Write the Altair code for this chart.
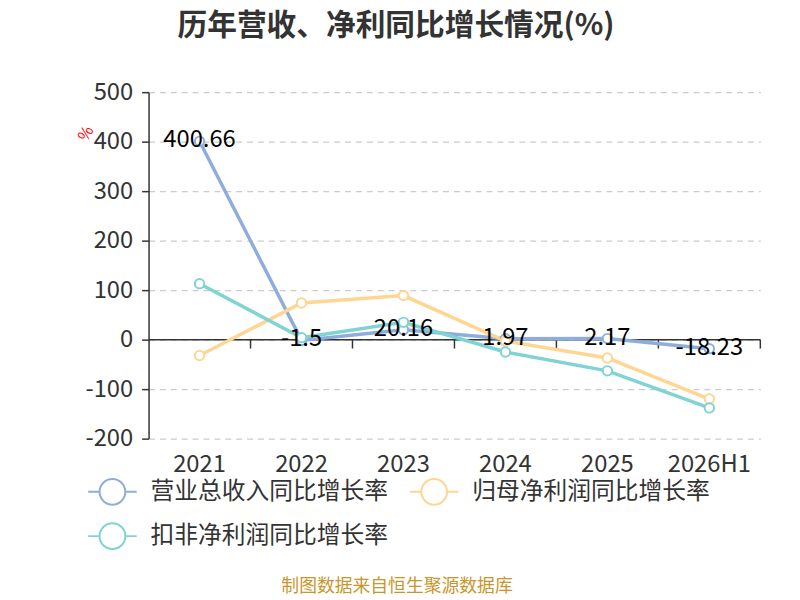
import altair as alt
import pandas as pd

years = ["2021", "2022", "2023", "2024", "2025", "2026H1"]
revenue_growth = [400.66, -1.5, 20.16, 1.97, 2.17, -18.23]
parent_np_growth = [-32, 74, 89, -3, -37, -120]
deducted_np_growth = [113, 4, 35, -25, -63, -138]
series_names = ["营业总收入同比增长率", "归母净利润同比增长率", "扣非净利润同比增长率"]
series_colors = ["#8eaddc", "#ffd592", "#7fd3d5"]
y_ticks = [-200, -100, 0, 100, 200, 300, 400, 500]
title_text = "历年营收、净利同比增长情况(%)"
footer_text = "制图数据来自恒生聚源数据库"

rows = []
for name, vals in zip(series_names, [revenue_growth, parent_np_growth, deducted_np_growth]):
    for yr, v in zip(years, vals):
        rows.append({"year": yr, "series": name, "value": v, "label": str(v)})
df = pd.DataFrame(rows)
rev_df = df[df["series"] == series_names[0]]
zero_df = pd.DataFrame({"value": [0]})
tick_df = pd.DataFrame({"year": years, "value": [0] * len(years), "value2": [-18] * len(years)})

FONT = "Noto Sans CJK SC"
W, H = 618, 350

xscale = alt.Scale(domain=years, paddingInner=0, paddingOuter=0)
x_axis = alt.Axis(title=None, domain=False, ticks=False, labelAngle=0,
                  labelFontSize=24, labelColor="#333", labelPadding=14, grid=False)
x_enc = alt.X("year:N", sort=years, scale=xscale, axis=x_axis)
yscale = alt.Scale(domain=[-200, 500], nice=False, zero=False)
y_enc = alt.Y("value:Q", scale=yscale,
              axis=alt.Axis(title=None, values=y_ticks, labelExpr="'' + datum.value",
                            labelFontSize=24, labelColor="#333",
                            labelPadding=9, tickSize=7, tickColor="#333", tickWidth=1.5,
                            domainColor="#333", domainWidth=1.5,
                            grid=True, gridDash=[6, 5], gridColor="#cccccc", gridWidth=1.2))

sym_path = "M-1,0H-0.53M0.53,0H1M0.53,0A0.53,0.53,0,1,1,-0.53,0A0.53,0.53,0,1,1,0.53,0Z"

zero_line = alt.Chart(zero_df).mark_rule(color="#333", strokeWidth=1.5).encode(
    y=y_enc, x=alt.value(0), x2=alt.value(W))

ticks = alt.Chart(tick_df).mark_rule(color="#333", strokeWidth=1.5).encode(
    x=alt.X("year:N", sort=years, scale=xscale, bandPosition=1, axis=x_axis),
    y=y_enc, y2="value2:Q")

lines = alt.Chart(df).mark_line(
    strokeWidth=3.5,
    point=alt.OverlayMarkDef(filled=False, fill="white", size=90, strokeWidth=2),
).encode(
    x=x_enc, y=y_enc,
    color=alt.Color("series:N", sort=series_names,
                    scale=alt.Scale(domain=series_names, range=series_colors),
                    legend=alt.Legend(orient="none", legendX=-62, legendY=378, columns=2,
                                      direction="horizontal",
                                      title=None, labelFontSize=24, labelColor="#333",
                                      labelFont=FONT, symbolType=sym_path, symbolSize=2401,
                                      symbolStrokeWidth=2, symbolFillColor="white",
                                      labelOffset=13, columnPadding=18, rowPadding=2,
                                      padding=0, labelLimit=400)),
    detail="series:N",
)

labels = alt.Chart(rev_df).mark_text(fontSize=24, color="black", dy=-1, font=FONT).encode(
    x=x_enc, y=y_enc, text="label:N")

pct = alt.Chart(pd.DataFrame({"t": ["%"]})).mark_text(
    color="red", fontSize=16, angle=300, font=FONT).encode(
    text="t:N", x=alt.value(-63), y=alt.value(42))

footer = alt.Chart(pd.DataFrame({"t": [footer_text]})).mark_text(
    color="#c9962c", fontSize=18, font=FONT).encode(
    text="t:N", x=alt.value(251), y=alt.value(500))

chart = alt.layer(zero_line, ticks, lines, labels, pct, footer).properties(
    width=W, height=H,
    title=alt.TitleParams(title_text, fontSize=30, fontWeight="bold", color="#333",
                          anchor="middle", dx=-59, offset=40, font=FONT),
    autosize=alt.AutoSizeParams(type="none"),
    padding={"left": 142, "top": 82, "right": 32, "bottom": 160},
).configure(font=FONT).configure_view(stroke=None)

chart.save("out.html", embed_options={"renderer": "svg", "actions": False})
